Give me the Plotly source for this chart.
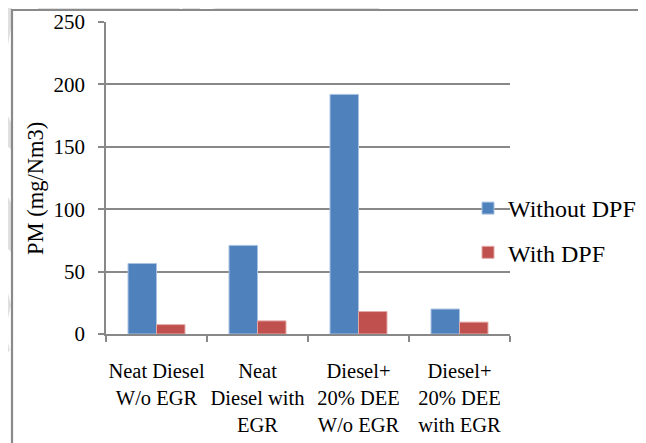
import plotly.graph_objects as go

categories = ["Neat Diesel<br>W/o EGR", "Neat<br>Diesel with<br>EGR", "Diesel+<br>20% DEE<br>W/o EGR", "Diesel+<br>20% DEE<br>with EGR"]
without_dpf = [56.5, 71, 192, 20]
with_dpf = [7.5, 10.5, 18, 9.5]
y_ticks = [0, 50, 100, 150, 200, 250]

W, H = 646, 443
OFF = 8  # page body margin
# plot area in screen pixels (reference coordinates)
L, R, T, B = 106, 510, 22, 334

def px(x):
    return (x - L) / (R - L)

def py(y):
    return (B - y) / (B - T)

def path(points):
    return "M " + " L ".join(f"{px(a):.5f},{py(b):.5f}" for a, b in points) + " Z"

FONT = "Liberation Serif"

fig = go.Figure()
fig.add_trace(go.Bar(x=categories, y=without_dpf, name="Without DPF",
                     marker=dict(color="#4F81BD", line=dict(color="#a9c2e0", width=1)),
                     legendgroup="a"))
fig.add_trace(go.Bar(x=categories, y=with_dpf, name="With DPF",
                     marker=dict(color="#C0504D", line=dict(color="#e2a9a7", width=1)),
                     legendgroup="b"))

wm = "#e0e0e0"
watermark = [
    [(38, 0), (172, 0), (181, 10), (38, 10)],
    [(190, 0), (206, 0), (199, 10), (181, 10)],
    [(206, 10), (232, 5), (275, 0), (386, 0), (378, 10)],
    [(0, 0), (12, 0), (12, 22), (6, 57), (0, 45)],
    [(0, 107), (4, 107), (12, 125), (12, 150), (0, 140)],
    [(0, 193), (6, 193), (12, 205), (12, 253), (0, 240)],
    [(0, 286), (7, 289), (11, 305), (7, 323), (0, 327)],
    [(0, 346), (8, 343), (10, 350), (0, 362)],
]
shapes = [dict(type="path", path=path(p), xref="paper", yref="paper",
               fillcolor=wm, line=dict(width=0), layer="below") for p in watermark]
shapes.append(dict(type="rect", xref="paper", yref="paper",
                   x0=px(12), y0=py(10), x1=px(700), y1=py(500),
                   line=dict(color="#8a8a8a", width=2.2), fillcolor="rgba(0,0,0,0)", layer="above"))

fig.update_layout(
    width=W, height=H,
    margin=dict(l=L - OFF, r=W - (R - OFF), t=T - OFF, b=H - (B - OFF), pad=0, autoexpand=False),
    paper_bgcolor="white", plot_bgcolor="rgba(0,0,0,0)",
    barmode="group", bargap=0.436, bargroupgap=0,
    font=dict(family=FONT, size=21, color="black"),
    showlegend=True,
    legend=dict(x=px(468), y=py(230.5), xanchor="left", yanchor="middle",
                font=dict(family=FONT, size=24, color="black"),
                traceorder="grouped", tracegroupgap=10,
                bgcolor="rgba(0,0,0,0)", borderwidth=0),
    shapes=shapes,
    annotations=[dict(text="PM (mg/Nm3)", x=px(35), y=py(189), xref="paper", yref="paper",
                      textangle=-90, showarrow=False, xanchor="center", yanchor="middle",
                      font=dict(family=FONT, size=22.5, color="black"))],
)
fig.update_xaxes(showline=True, linecolor="#888888", linewidth=1.5, automargin=False, tickangle=0,
                 ticks="outside", tickson="boundaries", ticklen=6, tickcolor="#888888", tickwidth=1.5,
                 showgrid=False, ticklabelstandoff=18,
                 tickfont=dict(family=FONT, size=20.5, color="black"))
fig.update_yaxes(range=[0, 250], tickvals=y_ticks, showline=True, linecolor="#888888", linewidth=1.5,
                 automargin=False,
                 ticks="outside", ticklen=6, tickcolor="#888888", tickwidth=1.5,
                 showgrid=True, gridcolor="#888888", gridwidth=1.5, zeroline=False,
                 ticklabelstandoff=9,
                 tickfont=dict(family=FONT, size=21, color="black"))

fig.write_html("out.html")
